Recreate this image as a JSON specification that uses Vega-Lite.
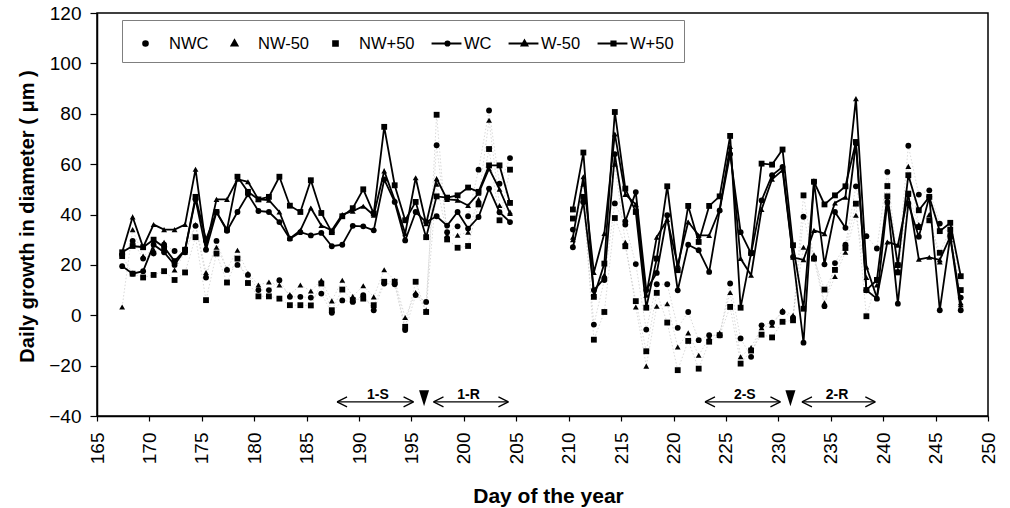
{
  "$schema": "https://vega.github.io/schema/vega-lite/v6.json",
  "width": 891,
  "height": 403,
  "autosize": {"type": "none"},
  "padding": {"left": 97, "top": 13, "right": 22, "bottom": 92},
  "background": "white",
  "config": {
    "view": {"stroke": "black", "strokeWidth": 1.5},
    "font": "Liberation Sans",
    "axis": {
      "domainColor": "black", "domainWidth": 1.5, "tickColor": "black", "tickWidth": 1.2,
      "labelColor": "black", "titleColor": "black", "grid": false,
      "labelFont": "Liberation Sans", "titleFont": "Liberation Sans",
      "labelFontSize": 19, "titleFontSize": 21, "titleFontWeight": "bold",
      "labelFlush": false, "labelOverlap": false
    }
  },
  "resolve": {"scale": {"shape": "independent"}, "legend": {"shape": "independent"}},
  "datasets": {
    "growth": [
      {"day":167.4,"period":1,"NWC":24,"NW-50":3.3,"NW+50":23.5,"WC":19.5,"W-50":25,"W+50":25},
      {"day":168.4,"period":1,"NWC":29.5,"NW-50":34,"NW+50":16.5,"WC":16.5,"W-50":39,"W+50":27.5},
      {"day":169.4,"period":1,"NWC":22.5,"NW-50":23.5,"NW+50":15,"WC":17.5,"W-50":27,"W+50":27},
      {"day":170.4,"period":1,"NWC":24.5,"NW-50":26,"NW+50":16,"WC":28,"W-50":36,"W+50":30},
      {"day":171.4,"period":1,"NWC":28,"NW-50":29,"NW+50":17.5,"WC":25,"W-50":34,"W+50":27},
      {"day":172.4,"period":1,"NWC":25.5,"NW-50":18,"NW+50":14,"WC":20,"W-50":34,"W+50":21.5},
      {"day":173.4,"period":1,"NWC":25,"NW-50":25,"NW+50":17,"WC":26,"W-50":36,"W+50":26},
      {"day":174.4,"period":1,"NWC":35.5,"NW-50":36,"NW+50":31,"WC":46,"W-50":58,"W+50":47},
      {"day":175.4,"period":1,"NWC":15,"NW-50":17,"NW+50":6,"WC":26,"W-50":27,"W+50":30},
      {"day":176.4,"period":1,"NWC":29.5,"NW-50":27,"NW+50":24.5,"WC":41,"W-50":46,"W+50":41},
      {"day":177.4,"period":1,"NWC":18,"NW-50":18.5,"NW+50":13,"WC":33.5,"W-50":46,"W+50":34},
      {"day":178.4,"period":1,"NWC":20,"NW-50":25.8,"NW+50":22.5,"WC":41,"W-50":54,"W+50":55},
      {"day":179.4,"period":1,"NWC":16,"NW-50":16.7,"NW+50":12.8,"WC":48,"W-50":53,"W+50":49},
      {"day":180.4,"period":1,"NWC":10,"NW-50":12,"NW+50":7.5,"WC":41.4,"W-50":46,"W+50":46},
      {"day":181.4,"period":1,"NWC":10,"NW-50":13.2,"NW+50":7.5,"WC":41,"W-50":45.7,"W+50":47},
      {"day":182.4,"period":1,"NWC":13.9,"NW-50":12,"NW+50":6.6,"WC":37,"W-50":41,"W+50":55},
      {"day":183.4,"period":1,"NWC":7.3,"NW-50":8.2,"NW+50":4,"WC":30.4,"W-50":30.5,"W+50":43.5},
      {"day":184.4,"period":1,"NWC":7.3,"NW-50":12,"NW+50":4,"WC":33,"W-50":33.7,"W+50":41},
      {"day":185.4,"period":1,"NWC":7,"NW-50":9.6,"NW+50":3.9,"WC":31.7,"W-50":42.6,"W+50":53.6},
      {"day":186.4,"period":1,"NWC":8.6,"NW-50":13.9,"NW+50":12.6,"WC":32.7,"W-50":35.6,"W+50":40.6},
      {"day":187.4,"period":1,"NWC":1,"NW-50":5.7,"NW+50":2,"WC":27.4,"W-50":33.7,"W+50":33},
      {"day":188.4,"period":1,"NWC":5.9,"NW-50":13.9,"NW+50":10.2,"WC":28,"W-50":40,"W+50":39.3},
      {"day":189.4,"period":1,"NWC":5.3,"NW-50":7.5,"NW+50":6,"WC":35.5,"W-50":41.3,"W+50":42.5},
      {"day":190.4,"period":1,"NWC":8,"NW-50":11.7,"NW+50":6.6,"WC":35.3,"W-50":43.3,"W+50":50},
      {"day":191.4,"period":1,"NWC":2,"NW-50":7.3,"NW+50":4,"WC":33.7,"W-50":39.7,"W+50":40.4},
      {"day":192.4,"period":1,"NWC":12.6,"NW-50":18.1,"NW+50":13.3,"WC":53.9,"W-50":57.3,"W+50":74.8},
      {"day":193.4,"period":1,"NWC":12.3,"NW-50":13.9,"NW+50":13.3,"WC":45,"W-50":45.7,"W+50":51.6},
      {"day":194.4,"period":1,"NWC":-5.9,"NW-50":-0.9,"NW+50":-4.6,"WC":29.7,"W-50":32.4,"W+50":37.7},
      {"day":195.4,"period":1,"NWC":8,"NW-50":9,"NW+50":13.3,"WC":41,"W-50":54.6,"W+50":45},
      {"day":196.4,"period":1,"NWC":5.3,"NW-50":2,"NW+50":1.3,"WC":37,"W-50":36.3,"W+50":31},
      {"day":197.4,"period":1,"NWC":67.5,"NW-50":52,"NW+50":79.6,"WC":39.3,"W-50":54.2,"W+50":47.2},
      {"day":198.4,"period":1,"NWC":33,"NW-50":31.8,"NW+50":30.1,"WC":35.6,"W-50":46,"W+50":46.7},
      {"day":199.4,"period":1,"NWC":35.3,"NW-50":31.8,"NW+50":26.8,"WC":41,"W-50":45.7,"W+50":47.6},
      {"day":200.4,"period":1,"NWC":39.3,"NW-50":33,"NW+50":27.5,"WC":34.4,"W-50":43.6,"W+50":50.7},
      {"day":201.4,"period":1,"NWC":57.8,"NW-50":46,"NW+50":44,"WC":39,"W-50":48.4,"W+50":49},
      {"day":202.4,"period":1,"NWC":81.3,"NW-50":77.4,"NW+50":66,"WC":50.3,"W-50":58.2,"W+50":59.5},
      {"day":203.4,"period":1,"NWC":52.2,"NW-50":43.6,"NW+50":37.7,"WC":40.9,"W-50":50,"W+50":59.5},
      {"day":204.4,"period":1,"NWC":62.4,"NW-50":41,"NW+50":57.8,"WC":37,"W-50":40.4,"W+50":44.6},
      {"day":210.4,"period":2,"NWC":34,"NW-50":30,"NW+50":38.4,"WC":27,"W-50":31,"W+50":42},
      {"day":211.4,"period":2,"NWC":45,"NW-50":52,"NW+50":47,"WC":45,"W-50":55,"W+50":64.6},
      {"day":212.4,"period":2,"NWC":-3.7,"NW-50":8,"NW+50":-9.7,"WC":10,"W-50":17,"W+50":7.3},
      {"day":213.4,"period":2,"NWC":14,"NW-50":16,"NW+50":1.3,"WC":14.6,"W-50":32.5,"W+50":20.5},
      {"day":214.4,"period":2,"NWC":44.4,"NW-50":60,"NW+50":38.6,"WC":64,"W-50":72,"W+50":80.7},
      {"day":215.4,"period":2,"NWC":36,"NW-50":29,"NW+50":27.4,"WC":37.3,"W-50":48,"W+50":50.3},
      {"day":216.4,"period":2,"NWC":20.3,"NW-50":3.3,"NW+50":5.6,"WC":48.9,"W-50":44,"W+50":41},
      {"day":217.4,"period":2,"NWC":-5.7,"NW-50":-20.2,"NW+50":-14.3,"WC":10,"W-50":8,"W+50":3},
      {"day":218.4,"period":2,"NWC":12.3,"NW-50":3.6,"NW+50":8.9,"WC":16.8,"W-50":31,"W+50":22.5},
      {"day":219.4,"period":2,"NWC":12.3,"NW-50":4.6,"NW+50":-2.9,"WC":39.7,"W-50":38,"W+50":51.2},
      {"day":220.4,"period":2,"NWC":-5,"NW-50":-12.6,"NW+50":-21.8,"WC":9.9,"W-50":20,"W+50":17.9},
      {"day":221.4,"period":2,"NWC":1.3,"NW-50":-7,"NW+50":-10.2,"WC":28,"W-50":37,"W+50":43.4},
      {"day":222.4,"period":2,"NWC":-9.9,"NW-50":-15.9,"NW+50":-21.2,"WC":25.8,"W-50":31.7,"W+50":29.1},
      {"day":223.4,"period":2,"NWC":-7.9,"NW-50":-9,"NW+50":-10.5,"WC":17.2,"W-50":31.7,"W+50":43.4},
      {"day":224.4,"period":2,"NWC":-8,"NW-50":-7,"NW+50":-7.9,"WC":41.6,"W-50":42,"W+50":47.2},
      {"day":225.4,"period":2,"NWC":12.6,"NW-50":9,"NW+50":3.3,"WC":64,"W-50":67,"W+50":71.2},
      {"day":226.4,"period":2,"NWC":-9.2,"NW-50":-16.5,"NW+50":-19.2,"WC":33,"W-50":22.5,"W+50":3},
      {"day":227.4,"period":2,"NWC":-16.5,"NW-50":-12.8,"NW+50":-14,"WC":24.5,"W-50":15.9,"W+50":24.7},
      {"day":228.4,"period":2,"NWC":-4,"NW-50":-5,"NW+50":-7.7,"WC":45.6,"W-50":42,"W+50":60.2},
      {"day":229.4,"period":2,"NWC":-2.9,"NW-50":-4,"NW+50":-8.8,"WC":55.6,"W-50":54,"W+50":59.8},
      {"day":230.4,"period":2,"NWC":1.3,"NW-50":2,"NW+50":-2.6,"WC":58.9,"W-50":57.6,"W+50":65.8},
      {"day":231.4,"period":2,"NWC":-1,"NW-50":0,"NW+50":-2,"WC":23.2,"W-50":23,"W+50":27.8},
      {"day":232.4,"period":2,"NWC":39.1,"NW-50":27,"NW+50":47.6,"WC":-10.9,"W-50":22,"W+50":2.6},
      {"day":233.4,"period":2,"NWC":22.5,"NW-50":24,"NW+50":22.5,"WC":53,"W-50":33.7,"W+50":53},
      {"day":234.4,"period":2,"NWC":3.6,"NW-50":5,"NW+50":10.2,"WC":20.2,"W-50":32.4,"W+50":44},
      {"day":235.4,"period":2,"NWC":20.7,"NW-50":15.4,"NW+50":18,"WC":41,"W-50":44.6,"W+50":47.6},
      {"day":236.4,"period":2,"NWC":28,"NW-50":25,"NW+50":26.7,"WC":34.7,"W-50":46.9,"W+50":51.2},
      {"day":237.4,"period":2,"NWC":51.2,"NW-50":39.7,"NW+50":44.3,"WC":68.2,"W-50":86,"W+50":68.8},
      {"day":238.4,"period":2,"NWC":31.4,"NW-50":15,"NW+50":-0.4,"WC":9.9,"W-50":19.2,"W+50":10},
      {"day":239.4,"period":2,"NWC":26.5,"NW-50":12,"NW+50":14,"WC":6.6,"W-50":7,"W+50":14},
      {"day":240.4,"period":2,"NWC":56.9,"NW-50":45,"NW+50":51.3,"WC":45,"W-50":29.1,"W+50":47.2},
      {"day":241.4,"period":2,"NWC":20,"NW-50":18,"NW+50":17,"WC":4.6,"W-50":27.8,"W+50":19.9},
      {"day":242.4,"period":2,"NWC":67.3,"NW-50":59.1,"NW+50":48.3,"WC":44.4,"W-50":48,"W+50":55.6},
      {"day":243.4,"period":2,"NWC":47.9,"NW-50":36,"NW+50":35,"WC":31.2,"W-50":22.2,"W+50":41.7},
      {"day":244.4,"period":2,"NWC":49.6,"NW-50":40,"NW+50":37.7,"WC":47,"W-50":23,"W+50":47},
      {"day":245.4,"period":2,"NWC":36.4,"NW-50":21.2,"NW+50":24.8,"WC":2,"W-50":22,"W+50":33.4},
      {"day":246.4,"period":2,"NWC":32,"NW-50":30,"NW+50":34,"WC":31.2,"W-50":31.2,"W+50":36.7},
      {"day":247.4,"period":2,"NWC":7,"NW-50":4.2,"NW+50":10,"WC":2,"W-50":5,"W+50":15.5}
    ],
    "arrows": [
      {"label":"1-S","start":187.9,"end":195.2,"mid":191.8,"level":-34.4},
      {"label":"1-R","start":197.1,"end":204.25,"mid":200.45,"level":-34.4},
      {"label":"2-S","start":223.0,"end":230.2,"mid":226.8,"level":-34.4},
      {"label":"2-R","start":232.25,"end":239.25,"mid":235.6,"level":-34.4}
    ],
    "events": [
      {"day":196.2,"value":-33},
      {"day":231.15,"value":-33}
    ]
  },
  "layer": [
    {
      "mark": {"type": "rule", "stroke": "black", "strokeWidth": 1.5},
      "encoding": {"y": {"datum": 0, "type": "quantitative", "scale": {"domain": [-40, 120], "nice": false, "zero": false}}}
    },
    {
      "data": {"name": "growth"},
      "transform": [
        {"fold": ["NWC", "NW-50", "NW+50"], "as": ["series", "value"]}
      ],
      "mark": {"type": "line", "stroke": "#bdbdbd", "strokeWidth": 0.6, "strokeDash": [1.5, 2]},
      "encoding": {
        "x": {"field": "day", "type": "quantitative", "scale": {"domain": [165, 250], "nice": false, "zero": false}, "title": "Day of the year"},
        "y": {"field": "value", "type": "quantitative", "scale": {"domain": [-40, 120], "nice": false, "zero": false}, "title": "Daily growth in diameter ( μm )"},
        "detail": [{"field": "series"}, {"field": "period"}]
      }
    },
    {
      "data": {"name": "growth"},
      "transform": [
        {"fold": ["WC", "W-50", "W+50"], "as": ["series", "value"]}
      ],
      "mark": {"type": "line", "stroke": "black", "strokeWidth": 1.8},
      "encoding": {
        "x": {"field": "day", "type": "quantitative", "scale": {"domain": [165, 250], "nice": false, "zero": false}, "title": "Day of the year"},
        "y": {"field": "value", "type": "quantitative", "scale": {"domain": [-40, 120], "nice": false, "zero": false}, "title": "Daily growth in diameter ( μm )"},
        "detail": [{"field": "series"}, {"field": "period"}]
      }
    },
    {
      "data": {"name": "growth"},
      "transform": [
        {"fold": ["NWC", "NW-50", "NW+50", "WC", "W-50", "W+50"], "as": ["series", "value"]}
      ],
      "mark": {"type": "point", "filled": true, "color": "black", "opacity": 1, "size": 34, "strokeWidth": 0},
      "encoding": {
        "x": {
          "field": "day", "type": "quantitative",
          "scale": {"domain": [165, 250], "nice": false, "zero": false},
          "title": "Day of the year",
          "axis": {
            "values": [165,170,175,180,185,190,195,200,205,210,215,220,225,230,235,240,245,250],
            "labelAngle": 270, "tickSize": 5, "labelPadding": 11,
            "titleX": 451, "titleY": 86, "titleBaseline": "alphabetic", "titleAlign": "center"
          }
        },
        "y": {
          "field": "value", "type": "quantitative",
          "scale": {"domain": [-40, 120], "nice": false, "zero": false},
          "title": "Daily growth in diameter ( μm )",
          "axis": {
            "values": [-40,-20,0,20,40,60,80,100,120],
            "tickSize": 7, "labelPadding": 9,
            "titleFontSize": 20,
            "titleX": -64, "titleY": 203, "titleAngle": 270, "titleBaseline": "alphabetic", "titleAlign": "center"
          }
        },
        "shape": {
          "field": "series", "type": "nominal",
          "scale": {"domain": ["NWC", "NW-50", "NW+50", "WC", "W-50", "W+50"], "range": ["circle", "triangle-up", "square", "circle", "triangle-up", "square"]},
          "legend": null
        }
      }
    },
    {
      "data": {"name": "growth"},
      "transform": [
        {"fold": ["NWC", "NW-50", "NW+50", "WC", "W-50", "W+50"], "as": ["series", "value"]},
        {"filter": "false"}
      ],
      "mark": {"type": "point", "filled": false, "color": "black", "strokeWidth": 2, "opacity": 1, "size": 600},
      "encoding": {
        "x": {"field": "day", "type": "quantitative", "scale": {"domain": [165, 250], "nice": false, "zero": false}, "title": "Day of the year"},
        "y": {"field": "value", "type": "quantitative", "scale": {"domain": [-40, 120], "nice": false, "zero": false}, "title": "Daily growth in diameter ( μm )"},
        "shape": {
          "field": "series", "type": "nominal",
          "scale": {
            "domain": ["NWC", "NW-50", "NW+50", "WC", "W-50", "W+50"],
            "range": [
              "M0.19,0A0.19,0.19,0,1,1,-0.19,0A0.19,0.19,0,1,1,0.19,0ZM0.13,0A0.13,0.13,0,1,1,-0.13,0A0.13,0.13,0,1,1,0.13,0ZM0.07,0A0.07,0.07,0,1,1,-0.07,0A0.07,0.07,0,1,1,0.07,0ZM0.02,0L-0.02,0",
              "M0,-0.26L0.24,0.17L-0.24,0.17ZM0,-0.14L0.14,0.11L-0.14,0.11ZM0,-0.04L0.05,0.06L-0.05,0.06Z",
              "M-0.19,-0.19H0.19V0.19H-0.19ZM-0.12,-0.12H0.12V0.12H-0.12ZM-0.05,-0.05H0.05V0.05H-0.05Z",
              "M-0.73,0H1.71M0.74,0A0.17,0.17,0,1,1,0.4,0A0.17,0.17,0,1,1,0.74,0ZM0.68,0A0.11,0.11,0,1,1,0.46,0A0.11,0.11,0,1,1,0.68,0ZM0.62,0A0.05,0.05,0,1,1,0.52,0A0.05,0.05,0,1,1,0.62,0Z",
              "M-0.73,0H1.71M0.57,-0.24L0.8,0.16L0.34,0.16ZM0.57,-0.13L0.7,0.1L0.44,0.1ZM0.57,-0.03L0.62,0.05L0.52,0.05Z",
              "M-0.73,0H1.71M0.4,-0.17H0.74V0.17H0.4ZM0.47,-0.1H0.67V0.1H0.47ZM0.53,-0.04H0.61V0.04H0.53Z"
            ]
          },
          "legend": {
            "orient": "none", "legendX": 25, "legendY": 7, "direction": "horizontal", "title": null,
            "padding": 10, "columnPadding": 12, "labelOffset": 10, "symbolSize": 600,
            "symbolStrokeColor": "black", "symbolStrokeWidth": 2, "symbolOpacity": 1,
            "labelFontSize": 16.5, "labelFont": "Liberation Sans", "labelColor": "black",
            "strokeColor": "#7f7f7f", "fillColor": "white"
          }
        }
      }
    },
    {
      "data": {"name": "arrows"},
      "mark": {"type": "rule", "stroke": "black", "strokeWidth": 1.3},
      "encoding": {
        "x": {"field": "start", "type": "quantitative", "title": "Day of the year"},
        "x2": {"field": "end"},
        "y": {"field": "level", "type": "quantitative", "title": "Daily growth in diameter ( μm )"}
      }
    },
    {
      "data": {"name": "arrows"},
      "mark": {"type": "point", "shape": "M0,0L1,-0.5M0,0L1,0.5", "size": 400, "filled": false, "stroke": "black", "strokeWidth": 1.3, "opacity": 1},
      "encoding": {
        "x": {"field": "start", "type": "quantitative", "title": "Day of the year"},
        "y": {"field": "level", "type": "quantitative", "title": "Daily growth in diameter ( μm )"}
      }
    },
    {
      "data": {"name": "arrows"},
      "mark": {"type": "point", "shape": "M0,0L-1,-0.5M0,0L-1,0.5", "size": 400, "filled": false, "stroke": "black", "strokeWidth": 1.3, "opacity": 1},
      "encoding": {
        "x": {"field": "end", "type": "quantitative", "title": "Day of the year"},
        "y": {"field": "level", "type": "quantitative", "title": "Daily growth in diameter ( μm )"}
      }
    },
    {
      "data": {"name": "arrows"},
      "mark": {"type": "text", "font": "Liberation Sans", "fontSize": 14, "fontWeight": "bold", "baseline": "alphabetic", "align": "center", "dy": -3, "color": "black"},
      "encoding": {
        "x": {"field": "mid", "type": "quantitative", "title": "Day of the year"},
        "y": {"field": "level", "type": "quantitative", "title": "Daily growth in diameter ( μm )"},
        "text": {"field": "label"}
      }
    },
    {
      "data": {"name": "events"},
      "mark": {"type": "point", "shape": "M-0.5,-0.8L0.5,-0.8L0,0.8Z", "size": 400, "filled": true, "color": "black", "opacity": 1, "strokeWidth": 0},
      "encoding": {
        "x": {"field": "day", "type": "quantitative", "title": "Day of the year"},
        "y": {"field": "value", "type": "quantitative", "title": "Daily growth in diameter ( μm )"}
      }
    }
  ]
}
